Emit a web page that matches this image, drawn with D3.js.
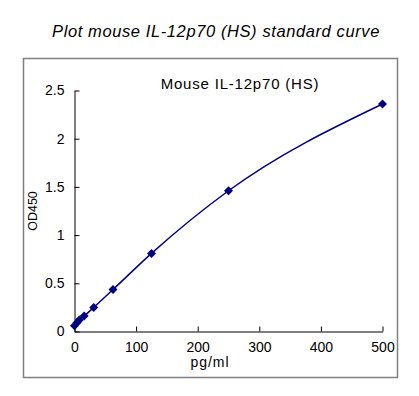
<!DOCTYPE html>
<html>
<head>
<meta charset="utf-8">
<script src="https://cdn.jsdelivr.net/npm/d3@7"></script>
<style>
  body { margin: 0; background: #fff; }
  text { font-family: "Liberation Sans", Arial, sans-serif; fill: #000; }
</style>
</head>
<body>
<div id="graph"></div>
<script>
// standard curve readings
const concentrations = [0, 3.9, 7.8, 15.6, 31.25, 62.5, 125, 250, 500];
const od450 = [0.06, 0.09, 0.12, 0.16, 0.25, 0.435, 0.81, 1.46, 2.36];
const xTicks = [0, 100, 200, 300, 400, 500];
const yTicks = [0, 0.5, 1, 1.5, 2, 2.5];

const width = 419, height = 396;
const svg = d3.select('#graph').append('svg')
  .attr('width', width)
  .attr('height', height);

// title
svg.append('text')
  .attr('x', 216).attr('y', 37)
  .attr('text-anchor', 'middle')
  .style('font-size', '16.5px')
  .style('letter-spacing', '0.6px')
  .style('font-style', 'italic')
  .text('Plot mouse IL-12p70 (HS) standard curve');

// outer frame
svg.append('rect')
  .attr('x', 23.5).attr('y', 58.5)
  .attr('width', 374).attr('height', 319)
  .attr('fill', 'none')
  .attr('stroke', '#7f7f7f')
  .attr('stroke-width', 1.5);

const x = d3.scaleLinear().domain([0, 500]).range([74.5, 382.5]);
const y = d3.scaleLinear().domain([0, 2.5]).range([331.5, 90.5]);

// subtitle
svg.append('text')
  .attr('x', 240).attr('y', 89)
  .attr('text-anchor', 'middle')
  .style('font-size', '15px')
  .style('letter-spacing', '0.8px')
  .text('Mouse IL-12p70 (HS)');

// axes, ticks inward
const xAxis = svg.append('g')
  .attr('transform', `translate(0,${y(0)})`)
  .call(d3.axisBottom(x).tickValues(xTicks).tickSizeInner(-5).tickSizeOuter(0).tickPadding(11));
const yAxis = svg.append('g')
  .attr('transform', `translate(${x(0)},0)`)
  .call(d3.axisLeft(y).tickValues(yTicks).tickFormat(d3.format('')).tickSizeInner(-5).tickSizeOuter(0).tickPadding(10));

[xAxis, yAxis].forEach(g => {
  g.select('.domain').attr('stroke', '#000');
  g.selectAll('.tick line').attr('stroke', '#000');
  g.selectAll('.tick text').style('font-size', '14px').attr('fill', '#000')
    .style('font-family', '"Liberation Sans", Arial, sans-serif');
});

// axis titles
svg.append('text')
  .attr('x', 210).attr('y', 367)
  .attr('text-anchor', 'middle')
  .style('font-size', '14px')
  .style('letter-spacing', '1px')
  .text('pg/ml');
svg.append('text')
  .attr('transform', 'translate(37,211) rotate(-90)')
  .attr('text-anchor', 'middle')
  .style('font-size', '12.5px')
  .text('OD450');

const points = concentrations.map((c, i) => ({ c, v: od450[i] }));

// fitted line
const line = d3.line()
  .x(d => x(d.c))
  .y(d => y(d.v))
  .curve(d3.curveMonotoneX);
svg.append('path')
  .datum(points)
  .attr('d', line)
  .attr('fill', 'none')
  .attr('stroke', '#000080')
  .attr('stroke-width', 1.5);

// diamond markers
svg.selectAll('.pt')
  .data(points)
  .enter().append('path')
  .attr('class', 'pt')
  .attr('transform', d => `translate(${x(d.c)},${y(d.v)})`)
  .attr('d', 'M0,-4.5L4.5,0L0,4.5L-4.5,0Z')
  .attr('fill', '#000080');
</script>
</body>
</html>
